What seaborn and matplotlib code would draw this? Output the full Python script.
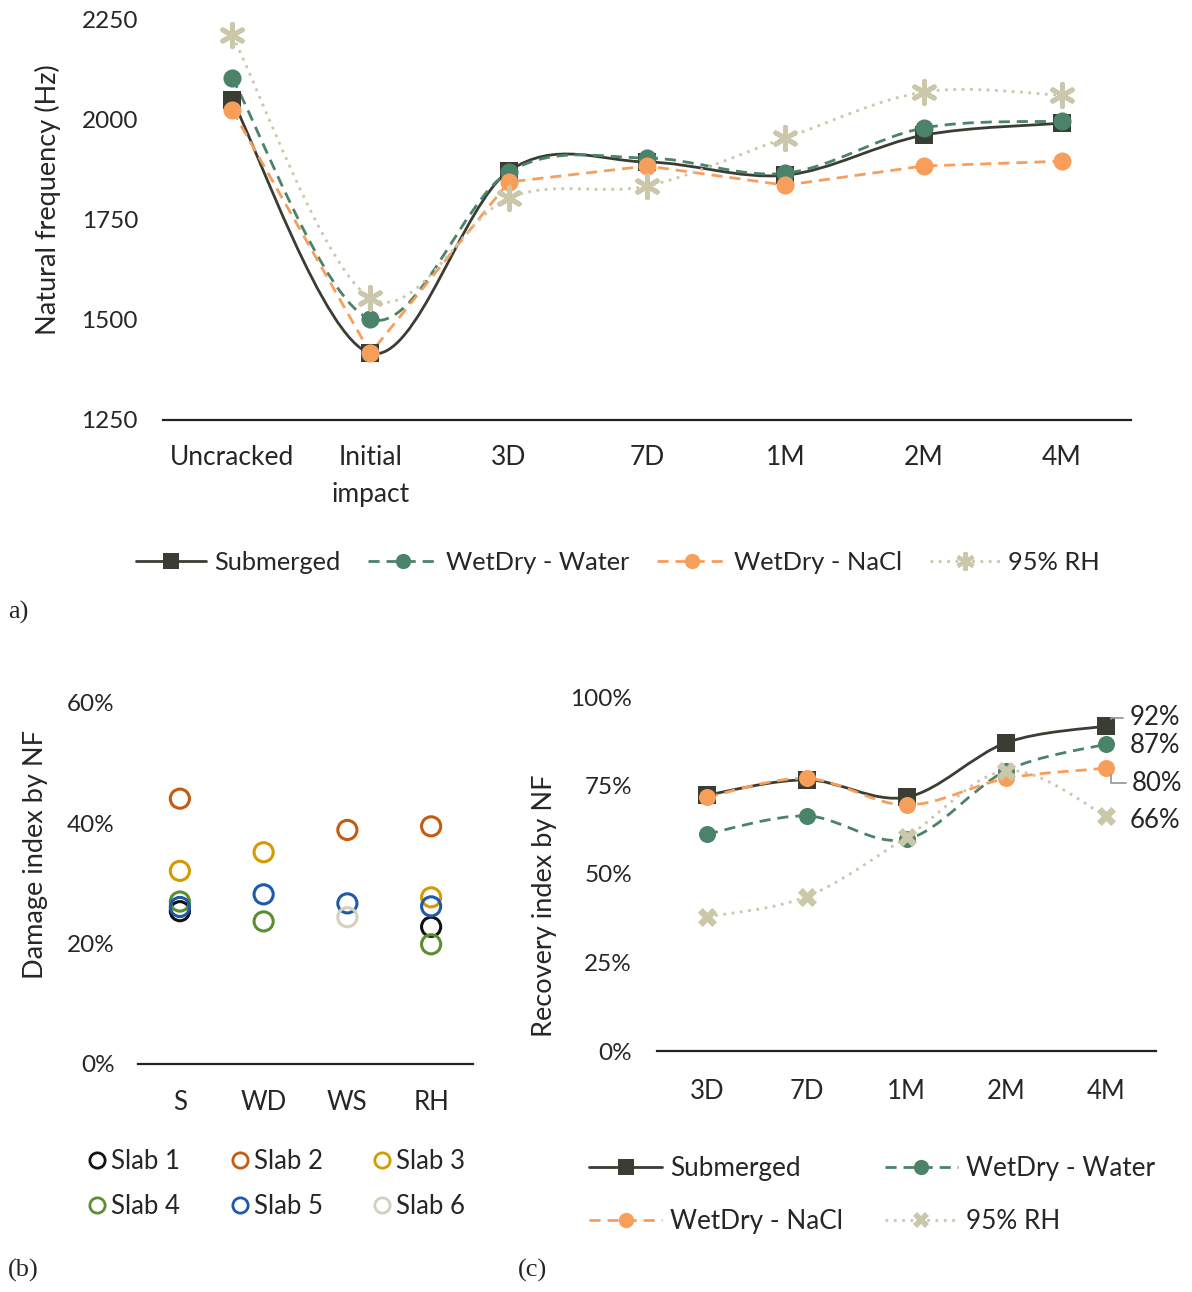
import numpy as np
import pandas as pd
import matplotlib
matplotlib.use("Agg")
import matplotlib.pyplot as plt
import seaborn as sns
from matplotlib.path import Path
from matplotlib.patches import PathPatch
from matplotlib.lines import Line2D
from matplotlib.ticker import PercentFormatter

# ---------------- data ----------------
stages_a = ["Uncracked", "Initial\nimpact", "3D", "7D", "1M", "2M", "4M"]
nf_submerged = [2050, 1417, 1872, 1895, 1862, 1962, 1992]
nf_wd_water = [2105, 1502, 1870, 1905, 1867, 1980, 1997]
nf_wd_nacl = [2025, 1417, 1845, 1885, 1837, 1885, 1897]
nf_rh95 = [2212, 1555, 1805, 1835, 1955, 2070, 2062]

conds_b = ["S", "WD", "WS", "RH"]
slab_names = ["Slab 1", "Slab 2", "Slab 3", "Slab 4", "Slab 5", "Slab 6"]
di_slab1 = [0.254, np.nan, np.nan, 0.228]
di_slab2 = [0.441, np.nan, 0.389, 0.395]
di_slab3 = [0.321, 0.352, np.nan, 0.277]
di_slab4 = [0.270, 0.237, np.nan, 0.199]
di_slab5 = [0.261, 0.282, 0.267, 0.262]
di_slab6 = [np.nan, np.nan, 0.244, np.nan]

stages_c = ["3D", "7D", "1M", "2M", "4M"]
ri_submerged = [0.723, 0.766, 0.717, 0.871, 0.918]
ri_wd_water = [0.613, 0.664, 0.598, 0.792, 0.867]
ri_wd_nacl = [0.717, 0.770, 0.695, 0.770, 0.799]
ri_rh95 = [0.379, 0.436, 0.604, 0.792, 0.664]
ri_end_labels = ["92%", "87%", "80%", "66%"]

series_names = ["Submerged", "WetDry - Water", "WetDry - NaCl", "95% RH"]

# ---------------- style ----------------
sns.set_style("white")
plt.rcParams["font.family"] = ["Lato", "DejaVu Sans"]
plt.rcParams["font.size"] = 18

C_SUB = "#3a3d33"
C_WAT = "#4b826a"
C_NAC = "#f89e5b"
C_RH = "#cbc7ab"
slab_colors = ["#111111", "#c55a11", "#d49a00", "#5b8f2e", "#1f5aa8", "#d3d0bf"]

series_style = [
    dict(color=C_SUB, ls="-", lw=2.0, marker="s"),
    dict(color=C_WAT, ls=(0, (4, 2.5)), lw=2.0, marker="o"),
    dict(color=C_NAC, ls=(0, (4, 2.5)), lw=2.0, marker="o"),
    dict(color=C_RH, ls=(0, (1, 2)), lw=2.0, marker="X"),
]

W, H = 1192, 1292
fig = plt.figure(figsize=(W / 100, H / 100), dpi=100)


def fax(l, t, r, b):
    return fig.add_axes([l / W, 1 - b / H, (r - l) / W, (b - t) / H])


def smooth_line(ax, xs, ys, smooth=True, **kw):
    pts = ax.transData.transform(np.column_stack([xs, ys]))
    n = len(pts)
    verts = [pts[0]]
    codes = [Path.MOVETO]
    for i in range(n - 1):
        p0 = pts[i - 1] if i > 0 else pts[i]
        p1, p2 = pts[i], pts[i + 1]
        p3 = pts[i + 2] if i + 2 < n else pts[i + 1]
        if smooth:
            c1 = p1 + (p2 - p0) / 6.0
            c2 = p2 - (p3 - p1) / 6.0
            verts += [c1, c2, p2]
            codes += [Path.CURVE4] * 3
        else:
            verts += [p2]
            codes += [Path.LINETO]
    data = ax.transData.inverted().transform(np.array(verts))
    ax.add_patch(PathPatch(Path(data, codes), fill=False, **kw))


def style_axis(ax):
    for s in ["top", "right", "left"]:
        ax.spines[s].set_visible(False)
    ax.spines["bottom"].set_color("#222222")
    ax.spines["bottom"].set_linewidth(1.6)
    ax.tick_params(length=0)


# ---------------- panel a ----------------
axa = fax(163, 20, 1131, 420)
xa = np.arange(len(stages_a))
axa.set_xlim(-0.5, len(stages_a) - 0.5)
axa.set_ylim(1250, 2250)
vals_a = [nf_submerged, nf_wd_water, nf_wd_nacl, nf_rh95]
smooth_a = [True, True, False, True]
for name, vals, st, sm in zip(series_names, vals_a, series_style, smooth_a):
    smooth_line(axa, xa, vals, smooth=sm, edgecolor=st["color"], linestyle=st["ls"],
                linewidth=st["lw"], zorder=2)
for name, vals, st in zip(series_names, vals_a, series_style):
    if st["marker"] == "X":
        sns.scatterplot(x=xa, y=vals, ax=axa, marker=(6, 2, 0), s=260, color=st["color"],
                        linewidth=3.5, zorder=3, legend=False)
    else:
        sns.scatterplot(x=xa, y=vals, ax=axa, marker=st["marker"], s=170, color=st["color"],
                        edgecolor=st["color"], linewidth=0, zorder=3, legend=False)
axa.set_xlim(-0.5, len(stages_a) - 0.5)
axa.set_ylim(1250, 2250)
axa.set_yticks([1250, 1500, 1750, 2000, 2250])
axa.set_xticks(xa)
axa.set_xticklabels(stages_a, fontsize=19, linespacing=1.62)
axa.tick_params(axis="y", labelsize=17.5, pad=18)
axa.tick_params(axis="x", pad=18)
axa.set_ylabel("Natural frequency (Hz)", fontsize=19.5)
axa.yaxis.set_label_coords(-0.105, 0.55)
style_axis(axa)


def line_handles(xmarker):
    hs = []
    for st in series_style:
        if st["marker"] == "X":
            hs.append(Line2D([], [], color=st["color"], ls=st["ls"], lw=st["lw"], marker=xmarker,
                             markersize=13 if xmarker != "X" else 12,
                             markeredgewidth=3 if xmarker != "X" else 0))
        else:
            hs.append(Line2D([], [], color=st["color"], ls=st["ls"], lw=st["lw"], marker=st["marker"],
                             markersize=11, markeredgewidth=0))
    return hs


ha = line_handles((6, 2, 0))
fig.legend(ha, series_names, loc="center", bbox_to_anchor=(618 / W, 1 - 562 / H), ncol=4,
           frameon=False, fontsize=18.3, handlelength=2.75, columnspacing=1.1, handletextpad=0.3)

fig.text(8 / W, 1 - 612 / H, "a)", fontsize=19, family="Liberation Serif", va="center", ha="left")
fig.text(8 / W, 1 - 1270 / H, "(b)", fontsize=19, family="Liberation Serif", va="center", ha="left")
fig.text(518 / W, 1 - 1270 / H, "(c)", fontsize=19, family="Liberation Serif", va="center", ha="left")

# ---------------- panel b ----------------
axb = fax(138, 703, 473, 1064)
xb = np.arange(len(conds_b))
di_all = [di_slab1, di_slab2, di_slab3, di_slab4, di_slab5, di_slab6]
df_b = pd.DataFrame({
    "pos": np.tile(xb, len(slab_names)),
    "value": np.concatenate(di_all),
    "Slab": np.repeat(slab_names, len(conds_b)),
}).dropna()
for name, col in zip(slab_names, slab_colors):
    sub = df_b[df_b["Slab"] == name]
    sns.scatterplot(data=sub, x="pos", y="value", ax=axb, marker="o", s=190,
                    facecolor="none", edgecolor=col, linewidth=2.2, legend=False, zorder=3)
axb.set_xlim(-0.5, len(conds_b) - 0.5)
axb.set_ylim(0, 0.6)
axb.set_yticks([0, 0.2, 0.4, 0.6])
axb.yaxis.set_major_formatter(PercentFormatter(1.0, decimals=0))
axb.set_xticks(xb)
axb.set_xticklabels(conds_b, fontsize=18.5)
axb.tick_params(axis="y", labelsize=17.5, pad=17)
axb.tick_params(axis="x", pad=19)
axb.set_xlabel("")
axb.set_ylabel("Damage index by NF", fontsize=19.5)
axb.yaxis.set_label_coords(-0.27, 0.58)
style_axis(axb)

hb = [Line2D([], [], ls="none", marker="o", markersize=11, markerfacecolor="none",
             markeredgecolor=c, markeredgewidth=2) for c in slab_colors]
order = [0, 3, 1, 4, 2, 5]
fig.legend([hb[i] for i in order], [slab_names[i] for i in order], loc="center",
           bbox_to_anchor=(276 / W, 1 - 1184 / H), ncol=3, frameon=False, fontsize=18.5,
           handlelength=0.8, handletextpad=0.15, columnspacing=1.9, labelspacing=0.78)

# ---------------- panel c ----------------
axc = fax(657, 697, 1156, 1051)
xc = np.arange(len(stages_c))
axc.set_xlim(-0.5, len(stages_c) - 0.5)
axc.set_ylim(0, 1.0)
vals_c = [ri_submerged, ri_wd_water, ri_wd_nacl, ri_rh95]
for name, vals, st in zip(series_names, vals_c, series_style):
    smooth_line(axc, xc, vals, edgecolor=st["color"], linestyle=st["ls"], linewidth=st["lw"], zorder=2)
for name, vals, st in zip(series_names, vals_c, series_style):
    sns.scatterplot(x=xc, y=vals, ax=axc, marker=st["marker"], s=190 if st["marker"] == "X" else 150,
                    color=st["color"], edgecolor=st["color"], linewidth=0, zorder=3, legend=False)
axc.set_xlim(-0.5, len(stages_c) - 0.5)
axc.set_ylim(0, 1.0)
axc.set_yticks([0, 0.25, 0.5, 0.75, 1.0])
axc.yaxis.set_major_formatter(PercentFormatter(1.0, decimals=0))
axc.set_xticks(xc)
axc.set_xticklabels(stages_c, fontsize=18.5)
axc.tick_params(axis="y", labelsize=17.5, pad=18)
axc.tick_params(axis="x", pad=20)
axc.set_ylabel("Recovery index by NF", fontsize=19.5)
axc.yaxis.set_label_coords(-0.2, 0.41)
style_axis(axc)

# end-point data labels
last = len(stages_c) - 1
label_offsets = [(13, 6), (17, -1), (15, -11), (17, -3)]
for vals, lab, (dx, dy), use_leader in zip(vals_c, ri_end_labels, label_offsets, [True, False, True, False]):
    if use_leader:
        axc.annotate(lab, xy=(last + 0.05, vals[last]), xytext=(dx, dy), textcoords="offset points",
                     fontsize=18.5, ha="left", va="center",
                     arrowprops=dict(arrowstyle="-", color="#9a9a9a", lw=1.3, shrinkA=2, shrinkB=5,
                                     relpos=(0, 0.5),
                                     connectionstyle="angle,angleA=0,angleB=90,rad=0"))
    else:
        axc.annotate(lab, xy=(last, vals[last]), xytext=(dx, dy), textcoords="offset points",
                     fontsize=18.5, ha="left", va="center")

hc = line_handles("X")
order_c = [0, 2, 1, 3]
fig.legend([hc[i] for i in order_c], [series_names[i] for i in order_c], loc="center",
           bbox_to_anchor=(872 / W, 1 - 1195 / H), ncol=2, frameon=False, fontsize=18.8,
           handlelength=2.8, handletextpad=0.3, columnspacing=1.6, labelspacing=1.05)

fig.savefig("out.png", dpi=100)
